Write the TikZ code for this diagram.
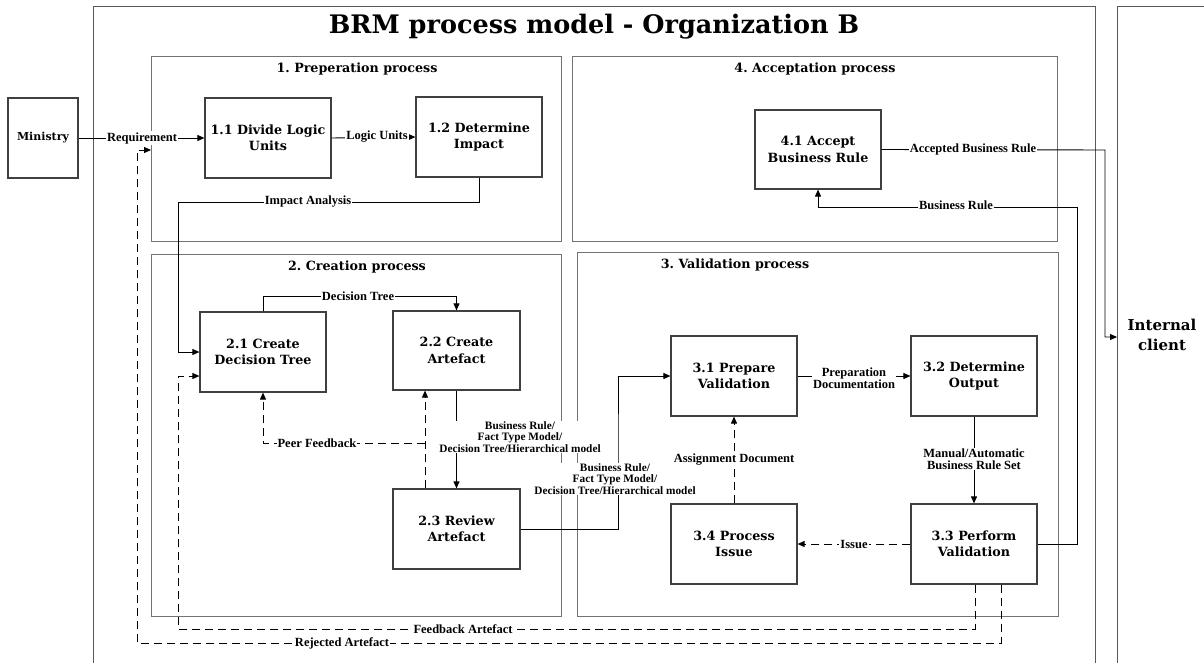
\documentclass[tikz,border=0pt]{standalone}
\usepackage{fontspec}
\setmainfont{DejaVu Serif}
\newfontfamily\lblfont{Liberation Serif}
\usetikzlibrary{arrows.meta,calc}
\frenchspacing
\begin{document}
\begin{tikzpicture}[x=1pt,y=-1pt,
  lane/.style={draw=black!65,line width=1.2pt,anchor=north west,inner sep=0pt},
  sect/.style={draw=black!55,line width=1.3pt,anchor=north west,inner sep=0pt},
  secttitle/.style={inner sep=1pt,font=\bfseries\fontsize{12.7}{14}\selectfont},
  proc/.style={draw=black!75,line width=1.2pt,fill=white,minimum width=126pt,minimum height=80pt,align=center,inner sep=2pt,font=\bfseries\fontsize{12.7}{16.5}\selectfont},
  lbl/.style={fill=white,inner sep=1pt,align=center,font=\lblfont\bfseries\fontsize{12.5}{11.5}\selectfont},
  lblsm/.style={lbl,font=\lblfont\bfseries\fontsize{11.3}{11.5}\selectfont},
  arr/.style={draw=black,line width=0.9pt,-{Triangle[length=7pt,width=6pt]}},
  darr/.style={arr,dash pattern=on 8pt off 5pt}]
\useasboundingbox (0,0) rectangle (1204,663);
\clip (0,0) rectangle (1204,663);
\fill[white] (0,0) rectangle (1204,663);
% lanes
\node[lane,minimum width=1002pt,minimum height=700pt] (org) at (93,6) {};
\node[lane,minimum width=150pt,minimum height=700pt] (ic) at (1117,6) {};
\node[font=\bfseries\fontsize{25.5}{30}\selectfont] (title) at (594,27) {BRM process model - Organization B};
\node[align=center,font=\bfseries\fontsize{15}{20}\selectfont] (ictext) at (1162,335) {Internal\\client};
% sections
\node[sect,minimum width=410pt,minimum height=185pt] (prep) at (151,56) {};
\node[sect,minimum width=485pt,minimum height=185pt] (acc) at (572,56) {};
\node[sect,minimum width=410pt,minimum height=362pt] (crea) at (151,254) {};
\node[sect,minimum width=481pt,minimum height=364pt] (vali) at (577,252) {};
\node[secttitle] (tprep) at (357,69) {1. Preperation process};
\node[secttitle] (tacc) at (815,69) {4. Acceptation process};
\node[secttitle] (tcrea) at (357,267) {2. Creation process};
\node[secttitle] (tvali) at (735,265) {3. Validation process};
% coordinates
\coordinate (ia) at (178,202);
\coordinate (brc) at (1077,207);
\coordinate (acc1) at (1105,150);
\coordinate (icin) at (1117,337);
\coordinate (bv) at (618,450);
\coordinate (pf) at (425,443);
\coordinate (fa1) at (975,629);
\coordinate (fa2) at (178,629);
\coordinate (ra1) at (1001,643);
\coordinate (ra2) at (137,643);
\coordinate (rin) at (151,150);
% process nodes
\node[proc,minimum width=70pt,font=\bfseries\fontsize{11}{14}\selectfont] (min) at (43,138) {Ministry};
\node[proc] (n11) at (268,138) {1.1 Divide Logic\\Units};
\node[proc] (n12) at (479,137) {1.2 Determine\\Impact};
\node[proc,minimum height=79pt] (n41) at (818,149.5) {4.1 Accept\\Business Rule};
\node[proc] (n21) at (263,352) {2.1 Create\\Decision Tree};
\node[proc,minimum width=127pt,minimum height=79pt] (n22) at (456.5,350.5) {2.2 Create\\Artefact};
\node[proc,minimum width=127pt] (n23) at (456.5,529) {2.3 Review\\Artefact};
\node[proc] (n31) at (734,376) {3.1 Prepare\\Validation};
\node[proc] (n32) at (974,376) {3.2 Determine\\Output};
\node[proc] (n34) at (734,544) {3.4 Process\\Issue};
\node[proc] (n33) at (974,544) {3.3 Perform\\Validation};
% connectors
\draw[arr] (min.east) -- (n11.west);
\draw[arr] (n11.east) -- (n12.west);
\draw[arr] (n12.south) |- (ia) |- (n21.west);
\draw[arr] (n21.north) -- ++(0,-15) -| (n22.north);
\draw[arr] (n22.south) -- (n23.north);
\draw[arr] (n23.east) -| (bv) |- (n31.west);
\draw[arr] (n31.east) -- (n32.west);
\draw[arr] (n32.south) -- (n33.north);
\draw[darr] (n33.west) -- (n34.east);
\draw[darr] (n34.north) -- (n31.south);
\draw[arr] (n33.east) -| (brc) -| (n41.south);
\draw[arr] (n41.east) -- (acc1) |- (icin);
\draw[darr] (n23.north -| pf) -- (n22.south -| pf);
\draw[darr] (pf) -| (n21.south);
\draw[darr] (n33.south -| fa1) |- (fa2) |- ([yshift=-24pt]n21.west);
\draw[darr] (n33.south -| ra1) |- (ra2) |- (rin);
% labels
\node[lbl] (lreq) at (142,138) {Requirement};
\node[lbl] (llu) at (377,137) {Logic Units};
\node[lbl] (lia) at (308,202) {Impact Analysis};
\node[lbl] (ldt) at (358,296) {Decision Tree};
\node[lblsm] (lbr1) at (520,437) {Business Rule/\\Fact Type Model/\\Decision Tree/Hierarchical model};
\node[lblsm] (lbr2) at (615,479) {Business Rule/\\Fact Type Model/\\Decision Tree/Hierarchical model};
\node[lbl] (lpf) at (317,443) {Peer Feedback};
\node[lbl] (lpd) at (854,378) {Preparation\\Documentation};
\node[lbl] (lmab) at (974,459) {Manual/Automatic\\Business Rule Set};
\node[lbl] (liss) at (854,544) {Issue};
\node[lbl] (lad) at (734,460) {Assignment Document};
\node[lbl] (labr) at (973,149) {Accepted Business Rule};
\node[lbl] (lbr) at (956,205) {Business Rule};
\node[lbl] (lfa) at (463,629) {Feedback Artefact};
\node[lbl] (lra) at (342,643) {Rejected Artefact};
\end{tikzpicture}
\end{document}
